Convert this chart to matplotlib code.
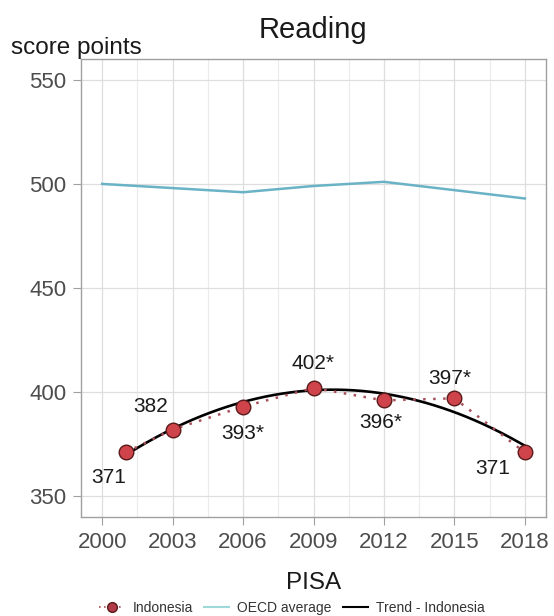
import numpy as np
import matplotlib.pyplot as plt
from matplotlib.lines import Line2D

plt.rcParams.update({
    "font.family": ["Liberation Sans", "DejaVu Sans"],
    "axes.edgecolor": "#A0A0A0",
    "xtick.color": "#A0A0A0",
    "ytick.color": "#A0A0A0",
    "xtick.labelcolor": "#4D4D4D",
    "ytick.labelcolor": "#4D4D4D",
})

# PISA reading scores
years_idn = [2001, 2003, 2006, 2009, 2012, 2015, 2018]
score_idn = [371, 382, 393, 402, 396, 397, 371]
labels_idn = ["371", "382", "393*", "402*", "396*", "397*", "371"]

years_oecd = [2000, 2003, 2006, 2009, 2012, 2015, 2018]
score_oecd = [500, 498, 496, 499, 501, 497, 493]

x_ticks = [2000, 2003, 2006, 2009, 2012, 2015, 2018]
y_ticks = [350, 400, 450, 500, 550]

# label offsets (pixels) around each point
label_offsets = [(-17, -25), (-22, 23), (0, -27), (0, 24), (-3, -22), (-5, 20), (-32, -16)]

red = "#CF444B"
oecd_blue = "#6AB2C6"

fig = plt.figure(figsize=(5.54, 6.16), dpi=100)
ax = fig.add_axes([81 / 554, 99 / 616, 465 / 554, 458 / 616])

ax.set_xlim(1999.1, 2018.9)
ax.set_ylim(340, 560)
ax.set_xticks(x_ticks)
ax.set_xticks([t + 1.5 for t in x_ticks[:-1]], minor=True)
ax.set_yticks(y_ticks)
ax.tick_params(axis="both", which="major", length=5.5, width=0.8, labelsize=16)
ax.tick_params(axis="x", which="major", pad=5)
ax.tick_params(axis="y", which="major", pad=5)
ax.tick_params(axis="x", which="minor", length=0)
ax.grid(True, which="major", color="#DEDEDE", linewidth=0.9)
ax.grid(True, which="minor", axis="x", color="#EBEBEB", linewidth=0.8)
ax.set_axisbelow(True)
for sp in ax.spines.values():
    sp.set_linewidth(1.0)

# OECD average
ax.plot(years_oecd, score_oecd, color=oecd_blue, linewidth=1.8, zorder=2)

# quadratic trend for Indonesia
coef = np.polyfit(years_idn, score_idn, 2)
xs = np.linspace(years_idn[0], years_idn[-1], 200)
ax.plot(xs, np.polyval(coef, xs), color="black", linewidth=1.9, zorder=3)

# Indonesia
ax.plot(years_idn, score_idn, linestyle=(0, (1, 3)), color="#A8505A", linewidth=1.8, zorder=3)
ax.plot(years_idn, score_idn, linestyle="none", marker="o", markersize=10.5,
        markerfacecolor=red, markeredgecolor="#5A1A1A", markeredgewidth=1.0, zorder=4)

for x, y, lab, (dx, dy) in zip(years_idn, score_idn, labels_idn, label_offsets):
    ax.annotate(lab, (x, y), xytext=(dx, dy), textcoords="offset pixels",
                ha="center", va="center", fontsize=15, color="#1A1A1A", zorder=5)

ax.set_xlabel("PISA", fontsize=17.5, color="#1A1A1A", labelpad=14)
fig.text(313 / 554, 1 - 30 / 616, "Reading", ha="center", va="center", fontsize=21, color="#1A1A1A")
fig.text(11 / 554, 1 - 48 / 616, "score points", ha="left", va="center", fontsize=17.5, color="#1A1A1A")

handles = [
    Line2D([], [], linestyle=(0, (1, 2)), color="#A8505A", linewidth=1.2,
           marker="o", markersize=7, markerfacecolor="#B03A48", markeredgecolor="#5A1A1A"),
    Line2D([], [], color="#9ED8D8", linewidth=1.5),
    Line2D([], [], color="black", linewidth=1.5),
]
fig.legend(handles, ["Indonesia", "OECD average", "Trend - Indonesia"],
           loc="center", bbox_to_anchor=(292 / 554, 1 - 608 / 616), ncol=3,
           frameon=False, fontsize=10, handlelength=1.8, columnspacing=0.8,
           handletextpad=0.6, labelcolor="#333333")

fig.savefig("out.png", dpi=100)
